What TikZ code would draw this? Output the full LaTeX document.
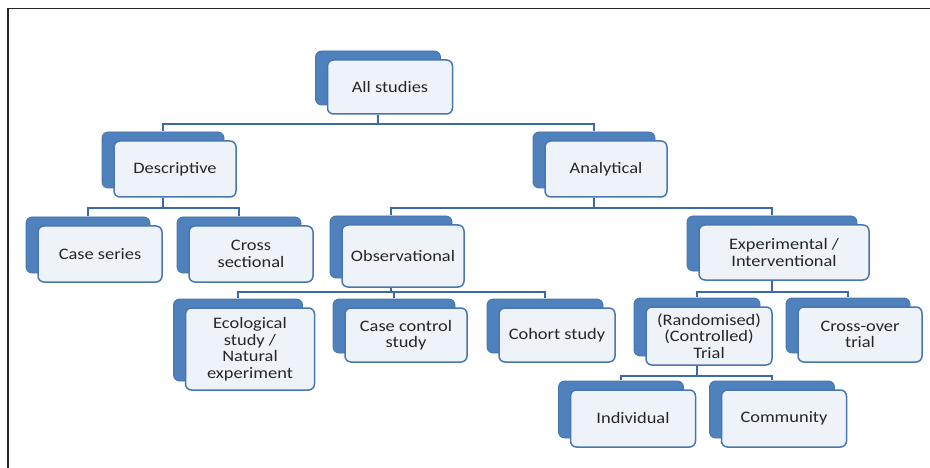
\documentclass[tikz,border=0pt]{standalone}
\usepackage{fontspec}
\setmainfont{Carlito}[FakeStretch=1.15]
\usetikzlibrary{shadows}
\definecolor{backblue}{RGB}{79,129,189}
\definecolor{edgeblue}{RGB}{72,118,178}
\definecolor{boxfill}{RGB}{238,243,250}
\definecolor{linkblue}{RGB}{60,105,170}
\begin{document}
\begin{tikzpicture}[x=1pt,y=-1pt,font=\fontsize{16}{16.5}\selectfont,
	box/.style={draw=edgeblue,line width=1.5pt,rounded corners=6pt,fill=boxfill,text=black!85,
		minimum width=124pt,minimum height=55pt,align=center,inner sep=2pt,
		copy shadow={shadow xshift=-12pt,shadow yshift=9pt,fill=backblue,draw=backblue!90!black,line width=0.8pt}},
	link/.style={draw=linkblue,line width=1.8pt}]
	\useasboundingbox (0,0) rectangle (930,468);
	\draw[line width=1.7pt,black!85] (930,8.5) -- (8,8.5) -- (8,468);
	\node[box,minimum width=125pt,minimum height=54pt] (all) at (390,87) {All studies};
	\node[box,minimum width=122pt,minimum height=56pt] (desc) at (175,169) {Descriptive};
	\node[box,minimum width=122pt,minimum height=56pt] (anal) at (606,169) {Analytical};
	\node[box,minimum height=56pt] (caseser) at (100,254) {Case series};
	\node[box,minimum height=56pt] (cross) at (251,254) {Cross\\sectional};
	\node[box,minimum width=122pt,minimum height=62pt] (obs) at (403,256) {Observational};
	\node[box,minimum width=170pt] (exp) at (784,252.5) {Experimental /\\Interventional};
	\node[box,minimum width=129pt,minimum height=82pt] (eco) at (250,349) {Ecological\\study /\\Natural\\experiment};
	\node[box,minimum width=122pt,minimum height=54pt] (casectl) at (406,335) {Case control\\study};
	\node[box,minimum width=116pt,minimum height=54pt] (cohort) at (557,335) {Cohort study};
	\node[box,minimum width=126pt,minimum height=58pt] (trial) at (709,336) {(Randomised)\\(Controlled)\\Trial};
	\node[box] (xover) at (860,334.5) {Cross-over\\trial};
	\node[box,minimum width=125pt,minimum height=57pt] (indiv) at (633,418.5) {Individual};
	\node[box,minimum width=125pt,minimum height=57pt] (comm) at (784,418.5) {Community};
	\foreach \p/\c/\d in {all/desc/9,all/anal/9,desc/caseser/10,desc/cross/10,anal/obs/10,anal/exp/10,
		obs/eco/4,obs/casectl/4,obs/cohort/4,exp/trial/11,exp/xover/11,trial/indiv/10,trial/comm/10}
		\draw[link] ([xshift=-12pt]\p.south) -- ++(0,\d) -| ([shift={(-12pt,9pt)}]\c.north);
\end{tikzpicture}
\end{document}
